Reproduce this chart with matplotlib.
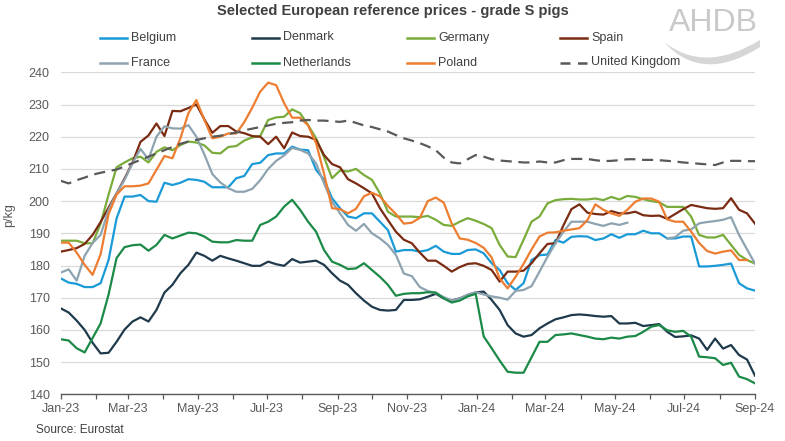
import numpy as np
import pandas as pd
import matplotlib
matplotlib.use("Agg")
import matplotlib.pyplot as plt
import matplotlib.dates as mdates
from matplotlib.lines import Line2D
from matplotlib.path import Path
from matplotlib.patches import PathPatch

nan = np.nan

# weekly reference prices, p/kg, Jan-23 .. Sep-24
weeks = pd.date_range("2023-01-01", periods=88, freq="7D")

belgium = [
    176.0, 174.7, 174.3, 173.3, 173.3, 174.5, 181.7, 194.6, 201.4, 201.4, 201.9, 200.0, 199.8, 205.7, 205.0, 205.7, 206.8, 206.6, 206.0, 204.3, 204.3, 204.3,
    207.1, 207.8, 211.5, 211.9, 214.3, 214.8, 214.8, 216.9, 216.0, 215.8, 209.7, 206.6, 200.9, 197.8, 195.2, 194.7, 196.2, 196.2, 193.6, 191.0, 184.3, 184.8,
    184.8, 184.3, 184.8, 186.1, 184.3, 183.6, 183.6, 184.8, 185.0, 183.8, 180.7, 178.6, 174.5, 172.4, 174.5, 181.7, 183.2, 183.4, 187.9, 187.1, 188.9, 189.1,
    189.0, 187.9, 188.4, 189.7, 188.6, 189.7, 189.7, 190.8, 190.0, 190.0, 188.4, 188.4, 189.0, 189.0, 179.7, 179.7, 179.9, 180.2, 180.6, 174.5, 172.9, 172.2,
]
denmark = [
    166.7, 165.4, 162.9, 160.0, 156.0, 152.7, 152.9, 156.3, 160.1, 162.6, 163.9, 162.6, 166.2, 171.6, 174.0, 177.6, 180.2, 184.0, 183.0, 181.5, 183.0, 182.2,
    181.5, 180.7, 179.9, 179.9, 181.2, 180.4, 179.9, 182.0, 180.9, 181.2, 181.5, 180.2, 177.6, 175.3, 174.0, 171.4, 169.1, 167.2, 166.2, 166.0, 166.2, 169.3,
    169.3, 169.5, 170.3, 171.2, 169.8, 169.1, 169.8, 170.8, 171.6, 171.9, 169.3, 166.2, 161.5, 158.9, 157.9, 158.4, 160.5, 162.0, 163.3, 163.9, 164.6, 164.8,
    164.6, 164.3, 164.1, 164.3, 162.0, 162.0, 162.2, 161.2, 161.5, 161.8, 159.4, 157.8, 158.0, 158.3, 157.3, 153.8, 157.3, 154.2, 155.3, 152.2, 150.8, 145.8,
]
germany = [
    187.7, 187.7, 187.7, 186.9, 186.9, 193.0, 202.0, 210.5, 212.0, 213.3, 213.8, 212.0, 215.3, 216.7, 215.8, 217.4, 218.5, 218.2, 217.3, 215.0, 214.8, 216.8,
    217.1, 218.8, 219.8, 220.2, 225.2, 226.0, 226.2, 228.5, 227.3, 223.6, 219.5, 213.6, 207.1, 209.5, 209.2, 210.0, 208.1, 206.6, 202.4, 196.7, 195.2, 195.2,
    195.2, 195.0, 195.4, 194.2, 192.6, 192.3, 193.6, 194.7, 193.9, 192.9, 191.6, 186.4, 182.8, 182.6, 188.0, 193.6, 195.2, 199.3, 200.3, 200.6, 200.7, 200.5,
    200.5, 200.8, 200.3, 201.3, 200.5, 201.6, 201.3, 200.6, 200.0, 199.6, 198.2, 198.2, 198.2, 195.2, 189.5, 188.7, 188.7, 189.5, 186.4, 183.3, 181.7, 180.6,
]
spain = [
    184.3, 184.8, 185.4, 186.7, 189.5, 193.5, 198.0, 202.4, 207.0, 212.0, 218.4, 220.4, 224.1, 220.2, 228.0, 227.9, 228.9, 230.0, 225.4, 221.2, 223.3, 223.3,
    221.6, 221.1, 220.2, 220.0, 217.7, 220.0, 216.4, 221.3, 220.2, 220.0, 219.0, 214.3, 211.5, 210.5, 206.8, 205.5, 204.0, 202.4, 197.8, 194.1, 190.5, 188.0,
    186.9, 184.0, 181.5, 181.5, 179.9, 178.1, 179.5, 180.5, 180.7, 179.9, 178.6, 175.0, 178.1, 178.1, 178.4, 180.7, 183.8, 186.7, 186.9, 192.5, 197.5, 199.0,
    196.4, 196.0, 195.8, 196.9, 196.2, 196.2, 196.7, 195.6, 195.4, 195.5, 194.5, 196.0, 197.5, 198.8, 198.3, 197.8, 197.6, 197.8, 200.9, 197.3, 196.2, 193.0,
]
france = [
    177.8, 178.8, 175.3, 183.0, 187.0, 189.5, 197.3, 202.4, 206.6, 211.8, 216.2, 213.0, 220.0, 223.2, 222.6, 222.5, 223.6, 220.0, 214.5, 208.4, 205.8, 204.0,
    202.9, 202.9, 203.8, 206.5, 210.0, 212.5, 214.2, 216.5, 215.9, 214.8, 211.7, 205.5, 199.8, 196.2, 192.6, 190.8, 192.9, 190.0, 188.4, 186.4, 183.3, 177.5,
    176.7, 173.3, 172.1, 171.4, 170.2, 169.1, 169.7, 171.0, 171.7, 171.0, 170.4, 170.0, 169.4, 172.1, 172.4, 173.6, 178.1, 182.7, 186.9, 190.5, 193.6, 193.6,
    193.6, 192.9, 192.3, 193.1, 192.6, 193.3, nan, nan, nan, nan, 188.4, 188.8, 190.8, 191.2, 193.1, 193.5, 193.8, 194.2, 195.0, 189.5, 185.0, 180.6,
]
netherlands = [
    157.1, 156.7, 154.3, 153.0, 157.5, 162.0, 171.0, 182.3, 185.7, 186.3, 186.5, 184.6, 186.4, 189.5, 188.4, 189.3, 190.2, 190.0, 189.0, 187.4, 187.2, 187.2,
    187.9, 187.7, 187.7, 192.6, 193.6, 195.2, 198.3, 200.4, 197.3, 193.6, 190.5, 184.8, 181.2, 180.2, 178.9, 179.1, 180.7, 178.6, 176.5, 174.0, 170.6, 171.2,
    171.4, 171.4, 171.7, 171.6, 169.8, 168.5, 169.1, 170.4, 171.2, 158.0, 154.3, 150.5, 147.0, 146.7, 146.7, 151.5, 156.3, 156.3, 158.4, 158.6, 158.9, 158.4,
    157.9, 157.3, 157.1, 157.6, 157.3, 157.9, 158.1, 159.4, 161.0, 161.5, 159.9, 159.4, 159.7, 157.9, 151.7, 151.5, 151.2, 149.1, 149.8, 145.5, 144.7, 143.4,
]
poland = [
    187.1, 187.1, 184.0, 180.2, 177.1, 183.5, 196.0, 202.0, 204.6, 204.6, 204.8, 205.5, 209.7, 214.0, 213.3, 219.5, 227.3, 231.4, 225.2, 219.5, 220.0, 221.0,
    221.0, 224.5, 229.0, 234.0, 236.8, 236.0, 230.4, 225.9, 225.9, 223.5, 218.0, 208.5, 197.8, 197.5, 196.2, 197.6, 201.5, 202.6, 201.5, 198.5, 196.0, 193.0,
    193.3, 194.8, 200.0, 201.1, 199.5, 193.0, 188.4, 188.0, 187.0, 185.5, 182.5, 176.0, 172.9, 176.5, 180.5, 185.0, 189.0, 190.2, 190.3, 190.8, 191.2, 191.6,
    194.1, 199.0, 197.3, 196.2, 195.4, 197.3, 199.8, 200.8, 200.8, 199.8, 194.3, 193.6, 193.6, 190.5, 187.0, 184.5, 183.7, 184.3, 184.7, 181.7, 181.7, nan,
]
uk = [
    206.3, 205.5, 206.5, 207.3, 208.2, 208.8, 209.3, 209.8, 210.8, 211.8, 212.8, 213.8, 214.8, 215.8, 216.8, 217.8, 218.5, 219.0, 219.5, 220.0, 220.3, 220.8,
    221.3, 222.0, 222.5, 223.0, 223.5, 224.0, 224.3, 224.5, 225.0, 225.2, 225.0, 225.0, 224.8, 224.6, 225.0, 224.3, 223.5, 223.0, 222.3, 221.6, 220.5, 219.5,
    218.8, 218.0, 217.0, 215.8, 213.5, 212.0, 211.7, 213.0, 214.3, 213.8, 213.0, 212.6, 212.4, 212.2, 212.0, 212.0, 212.3, 212.0, 212.0, 212.7, 213.1, 213.1,
    213.1, 212.7, 212.4, 212.5, 212.7, 213.0, 213.0, 212.8, 212.8, 212.7, 212.5, 212.3, 212.0, 211.8, 211.6, 211.4, 211.2, 212.0, 212.5, 212.5, 212.4, 212.4,
]

# legend order: row 1 then row 2
names = ["Belgium", "Denmark", "Germany", "Spain",
         "France", "Netherlands", "Poland", "United Kingdom"]
values = [belgium, denmark, germany, spain, france, netherlands, poland, uk]
colors = ["#1a9ad7", "#1f3a4c", "#7aac3b", "#7a2b12",
          "#8ea3b0", "#1b8a47", "#ed7d31", "#595959"]

plt.rcParams["font.family"] = ["Liberation Sans", "DejaVu Sans"]

W, H = 785, 441
fig = plt.figure(figsize=(W / 100, H / 100), dpi=100)
ax = fig.add_axes([60.7 / W, 1 - 394.3 / H, (755 - 60.7) / W, (394.3 - 72.3) / H])

for name, vals, col in zip(names, values, colors):
    if name == "United Kingdom":
        ax.plot(weeks, vals, color=col, lw=1.6, dashes=(5, 3), zorder=3)
    else:
        ax.plot(weeks, vals, color=col, lw=1.6, zorder=3)

ax.set_ylim(140, 240)
ax.set_yticks(np.arange(140, 241, 10))
ax.set_xlim(pd.Timestamp("2023-01-01"), pd.Timestamp("2024-09-01"))
ax.xaxis.set_major_locator(mdates.MonthLocator(bymonth=[1, 3, 5, 7, 9, 11]))
ax.xaxis.set_major_formatter(mdates.DateFormatter("%b-%y"))
ax.xaxis.set_minor_locator(mdates.MonthLocator())

ax.grid(axis="y", color="#d9d9d9", lw=0.9)
ax.set_axisbelow(True)
for s in ["top", "right", "left"]:
    ax.spines[s].set_visible(False)
ax.spines["bottom"].set_color("#595959")
ax.spines["bottom"].set_linewidth(1.0)
ax.spines["bottom"].set_zorder(4)

ax.tick_params(axis="x", which="both", direction="out", length=3.5, width=0.9,
               color="#595959", labelcolor="#595959", labelsize=9, pad=3)
ax.tick_params(axis="y", length=0, labelcolor="#595959", labelsize=9, pad=8)

# title, axis label, source
fig.text(0.5, 1 - 11 / H, "Selected European reference prices - grade S pigs",
         ha="center", va="center", fontsize=10.5, fontweight="bold", color="#404040")
fig.text(9 / W, 1 - 215 / H, "p/kg", rotation=90, ha="center", va="center",
         fontsize=9, color="#595959")
fig.text(36 / W, 1 - 430 / H, "Source: Eurostat", ha="left", va="center",
         fontsize=8.5, color="#404040")

# legend, 2 rows x 4 columns
col_x = [100, 252, 407, 560]
row_y = [37.5, 62.5]
for k, (name, col) in enumerate(zip(names, colors)):
    x0 = col_x[k % 4]
    y0 = row_y[k // 4]
    ln = Line2D([x0 / W, (x0 + 27) / W], [1 - y0 / H, 1 - y0 / H],
                transform=fig.transFigure, color=col, lw=1.8)
    if name == "United Kingdom":
        ln.set_dashes((4, 3))
    fig.add_artist(ln)
    fig.text((x0 + 31) / W, 1 - y0 / H, name, ha="left", va="center",
             fontsize=9, color="#404040")

# AHDB logo
fig.text(713 / W, 1 - 23 / H, "AHDB", ha="center", va="center", fontsize=23,
         color="#c9c9c9")
pts = [(664, 42), (705, 74), (760, 40), (760, 47), (702, 84), (664, 42)]
verts = [(x / W, 1 - y / H) for x, y in pts]
codes = [Path.MOVETO, Path.CURVE3, Path.CURVE3, Path.LINETO, Path.CURVE3, Path.CURVE3]
fig.add_artist(PathPatch(Path(verts, codes), transform=fig.transFigure,
                         facecolor="#d6d6d6", edgecolor="none"))

fig.savefig("out.png", dpi=100)
